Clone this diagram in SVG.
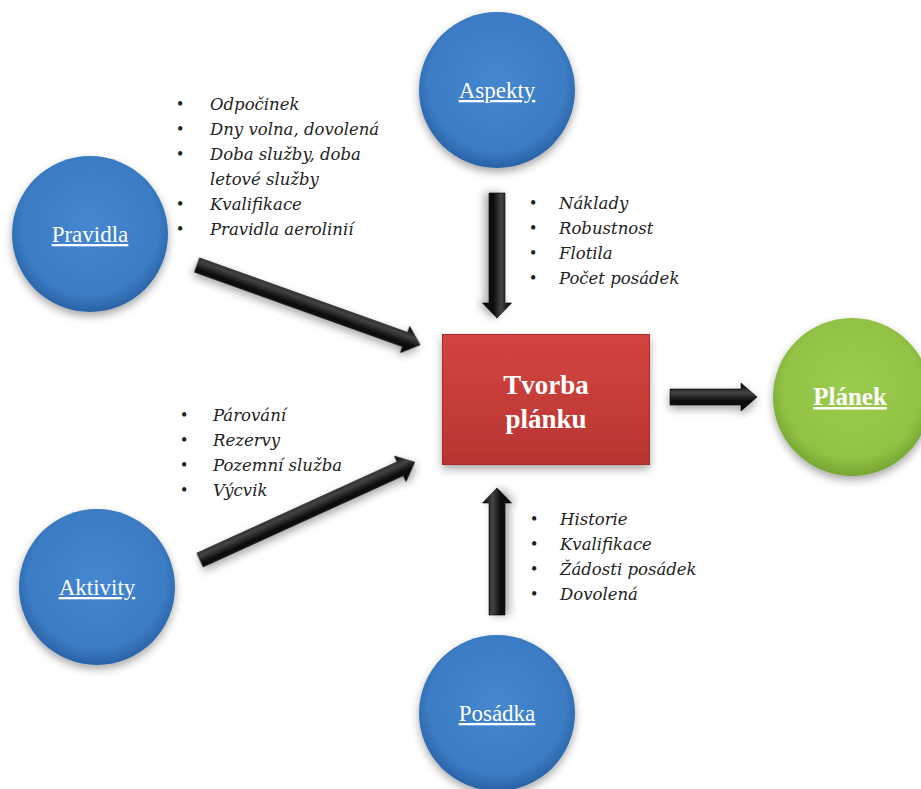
<svg xmlns="http://www.w3.org/2000/svg" width="921" height="789" viewBox="0 0 921 789">
<defs>
<radialGradient id="gBlue" cx="50%" cy="45%" r="55%">
<stop offset="0" stop-color="#4587d0"/>
<stop offset="0.8" stop-color="#3b7cc4"/>
<stop offset="1" stop-color="#2a62a6"/>
</radialGradient>
<radialGradient id="gGreen" cx="50%" cy="45%" r="55%">
<stop offset="0" stop-color="#9ccc4e"/>
<stop offset="0.8" stop-color="#92c244"/>
<stop offset="1" stop-color="#76a533"/>
</radialGradient>
<linearGradient id="gRed" x1="0" y1="0" x2="0" y2="1">
<stop offset="0" stop-color="#d44440"/>
<stop offset="1" stop-color="#b83531"/>
</linearGradient>
<linearGradient id="gArrow" x1="0" y1="0" x2="0" y2="1">
<stop offset="0" stop-color="#000"/>
<stop offset="0.35" stop-color="#444"/>
<stop offset="0.6" stop-color="#111"/>
<stop offset="1" stop-color="#000"/>
</linearGradient>
<filter id="sh" x="-20%" y="-20%" width="140%" height="150%">
<feDropShadow dx="0" dy="4" stdDeviation="4" flood-color="#000" flood-opacity="0.35"/>
</filter>
</defs>
<style>
.circle-label{font-family:"Liberation Serif","Times New Roman",serif;font-size:23px;fill:#fff;text-anchor:middle;text-decoration:underline}
.list{font-family:"DejaVu Serif","Liberation Serif",serif;font-size:16.5px;font-style:italic;fill:#222}
.bul{font-family:"Liberation Serif","Times New Roman",serif;font-size:18px;fill:#222}
.arrow{fill:url(#gArrow);stroke:#000;stroke-width:0.6;filter:url(#sh)}
.center{font-family:"Liberation Serif","Times New Roman",serif;font-size:27px;font-weight:bold;fill:#fff;text-anchor:middle}
</style>
<rect width="921" height="789" fill="#fff"/>

<g id="connectors">
<path class="arrow" transform="translate(197,265) rotate(19.7)" d="M0,-7.5 L221,-7.5 L221,-14 L237,0 L221,14 L221,7.5 L0,7.5 Z"/>
<path class="arrow" transform="translate(200,560) rotate(-24.5)" d="M0,-7.5 L220,-7.5 L220,-14 L236,0 L220,14 L220,7.5 L0,7.5 Z"/>
<path class="arrow" transform="translate(497,193) rotate(90)" d="M0,-8 L110,-8 L110,-14.5 L125,0 L110,14.5 L110,8 L0,8 Z"/>
<path class="arrow" transform="translate(497,615) rotate(-90)" d="M0,-8 L112,-8 L112,-14.5 L127,0 L112,14.5 L112,8 L0,8 Z"/>
<path class="arrow" transform="translate(670,397)" d="M0,-8 L71,-8 L71,-14 L87,0 L71,14 L71,8 L0,8 Z"/>
</g>

<g id="pravidla">
<circle cx="90" cy="234" r="78" fill="url(#gBlue)" filter="url(#sh)"/>
<text class="circle-label" x="90" y="242">Pravidla</text>
</g>
<g id="aspekty">
<circle cx="497" cy="90" r="78" fill="url(#gBlue)" filter="url(#sh)"/>
<text class="circle-label" x="497" y="98">Aspekty</text>
</g>
<g id="aktivity">
<circle cx="97" cy="587" r="78" fill="url(#gBlue)" filter="url(#sh)"/>
<text class="circle-label" x="97" y="595">Aktivity</text>
</g>
<g id="posadka">
<circle cx="497" cy="713" r="78" fill="url(#gBlue)" filter="url(#sh)"/>
<text class="circle-label" x="497" y="721">Posádka</text>
</g>
<g id="planek">
<circle cx="852" cy="397" r="79" fill="url(#gGreen)" filter="url(#sh)"/>
<text class="circle-label" x="850" y="405" style="font-weight:bold;font-size:25px">Plánek</text>
</g>
<g id="tvorba">
<rect x="442" y="334" width="208" height="131" fill="url(#gRed)" filter="url(#sh)"/>
<rect x="442.5" y="334.5" width="207" height="130" fill="none" stroke="#a52c28" stroke-width="1"/>
<text class="center" x="546" y="394">Tvorba</text>
<text class="center" x="546" y="428">plánku</text>
</g>

<g id="list-pravidla">
<text class="bul" x="177" y="110">•</text><text class="list" x="210" y="110">Odpočinek</text>
<text class="bul" x="177" y="135">•</text><text class="list" x="210" y="135">Dny volna, dovolená</text>
<text class="bul" x="177" y="160">•</text><text class="list" x="210" y="160">Doba služby, doba</text>
<text class="list" x="210" y="185">letové služby</text>
<text class="bul" x="177" y="210">•</text><text class="list" x="210" y="210">Kvalifikace</text>
<text class="bul" x="177" y="235">•</text><text class="list" x="210" y="235">Pravidla aerolinií</text>
</g>
<g id="list-aspekty">
<text class="bul" x="530" y="209">•</text><text class="list" x="559" y="209">Náklady</text>
<text class="bul" x="530" y="234">•</text><text class="list" x="559" y="234">Robustnost</text>
<text class="bul" x="530" y="259">•</text><text class="list" x="559" y="259">Flotila</text>
<text class="bul" x="530" y="284">•</text><text class="list" x="559" y="284">Počet posádek</text>
</g>
<g id="list-aktivity">
<text class="bul" x="181" y="421">•</text><text class="list" x="213" y="421">Párování</text>
<text class="bul" x="181" y="446">•</text><text class="list" x="213" y="446">Rezervy</text>
<text class="bul" x="181" y="471">•</text><text class="list" x="213" y="471">Pozemní služba</text>
<text class="bul" x="181" y="496">•</text><text class="list" x="213" y="496">Výcvik</text>
</g>
<g id="list-posadka">
<text class="bul" x="531" y="525">•</text><text class="list" x="560" y="525">Historie</text>
<text class="bul" x="531" y="550">•</text><text class="list" x="560" y="550">Kvalifikace</text>
<text class="bul" x="531" y="575">•</text><text class="list" x="560" y="575">Žádosti posádek</text>
<text class="bul" x="531" y="600">•</text><text class="list" x="560" y="600">Dovolená</text>
</g>
</svg>
